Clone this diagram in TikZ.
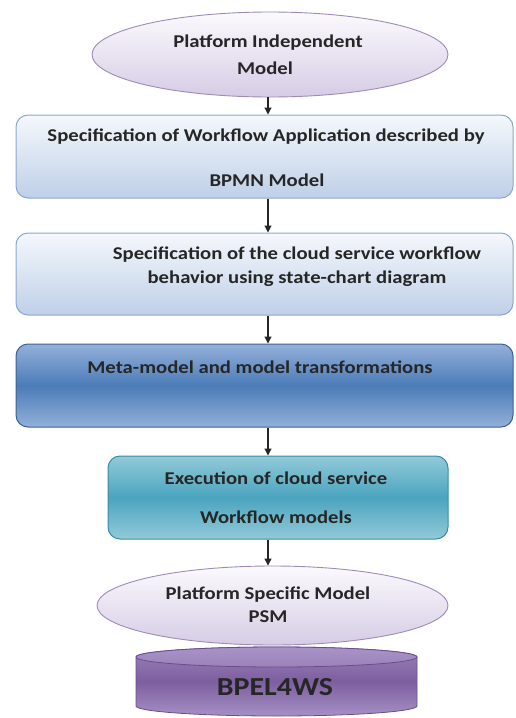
\documentclass[tikz,border=0pt]{standalone}
\usepackage{fontspec}
\setmainfont{Carlito}[FakeStretch=1.15]
\usetikzlibrary{arrows.meta,shapes.geometric}
\definecolor{txt}{HTML}{262626}
\definecolor{lavtop}{HTML}{FBFAFD}
\definecolor{lavbot}{HTML}{D6CCE5}
\definecolor{lavdraw}{HTML}{9D8BB8}
\definecolor{lbtop}{HTML}{F5F8FC}
\definecolor{lbbot}{HTML}{BFCFE8}
\definecolor{lbdraw}{HTML}{8CA7CF}
\definecolor{dbedge}{HTML}{93B0D9}
\definecolor{dbmid}{HTML}{4C7CB8}
\definecolor{dbdraw}{HTML}{3C6294}
\definecolor{tledge}{HTML}{92CAD8}
\definecolor{tlmid}{HTML}{4BA4BF}
\definecolor{tldraw}{HTML}{3B8BA5}
\definecolor{cylbody}{HTML}{7D5E9F}
\definecolor{cylhi}{HTML}{9B82BA}
\definecolor{cyllow}{HTML}{A590C4}
\definecolor{cyltop}{HTML}{A893C6}
\definecolor{cyldraw}{HTML}{6A4E8C}
\tikzset{
  lbl/.style={font=\bfseries\fontsize{18}{21}\selectfont, text=txt, inner sep=0pt},
  oval/.style={ellipse, draw=lavdraw, line width=0.9pt, top color=lavtop, bottom color=lavbot},
  lightbox/.style={rectangle, rounded corners=12pt, draw=lbdraw, line width=1pt, top color=lbtop, bottom color=lbbot},
  darkbox/.style={rectangle, rounded corners=12pt, draw=dbdraw, line width=1pt, top color=dbedge, bottom color=dbedge, middle color=dbmid},
  tealbox/.style={rectangle, rounded corners=12pt, draw=tldraw, line width=1pt, top color=tledge, bottom color=tledge, middle color=tlmid},
  arr/.style={draw=black!85, line width=1.2pt, -{Triangle[length=7pt,width=7pt]}}
}
\begin{document}
\begin{tikzpicture}[x=1pt,y=-1pt]
\useasboundingbox (0,0) rectangle (515,718);
% shapes
\node[oval, minimum width=356pt, minimum height=85pt, inner sep=0pt] (e1) at (270,54.5) {};
\node[lightbox, minimum width=497pt, minimum height=83pt] (b1) at (264.5,156.5) {};
\node[lightbox, minimum width=497pt, minimum height=82pt] (b2) at (264.5,274) {};
\node[darkbox, minimum width=497pt, minimum height=83pt] (b3) at (264.5,385.5) {};
\node[tealbox, minimum width=340pt, minimum height=83pt] (b4) at (278,497.5) {};
% cylinder
\coordinate (cyl) at (276.5,657);
\shade[top color=cylhi, bottom color=cyllow, middle color=cylbody, draw=cyldraw, line width=0.8pt]
  (136,657) -- (136,706) arc[start angle=180, end angle=360, x radius=140.5pt, y radius=10pt]
  -- (417,657) arc[start angle=0, end angle=180, x radius=140.5pt, y radius=10pt] -- cycle;
\shade[top color=cyltop, bottom color=cylhi, draw=cyldraw, line width=0.8pt]
  (cyl) ellipse[x radius=140.5pt, y radius=10pt];
\node[oval, minimum width=351pt, minimum height=79pt, inner sep=0pt] (e2) at (272.5,605.5) {};
% texts
\node[lbl] (t1a) at (268,43) {Platform Independent};
\node[lbl] (t1b) at (265,68) {Model};
\node[lbl] (t2a) at (266,137) {Specification of Workflow Application described by};
\node[lbl] (t2b) at (267,180) {BPMN Model};
\node[lbl] (t3a) at (297,255) {Specification of the cloud service workflow};
\node[lbl] (t3b) at (297,279) {behavior using state-chart diagram};
\node[lbl] (t4) at (260,367) {Meta-model and model transformations};
\node[lbl] (t5a) at (276,478) {Execution of cloud service};
\node[lbl] (t5b) at (276,517) {Workflow models};
\node[lbl] (t6a) at (268,595) {Platform Specific Model};
\node[lbl] (t6b) at (268,617) {PSM};
\node[font=\bfseries\fontsize{26}{30}\selectfont, text=txt, inner sep=0pt] (t7) at (275,687) {BPEL4WS};
% arrows
\coordinate (ax) at (268,0);
\draw[arr] (e1.south -| ax) -- (b1.north -| ax);
\draw[arr] (b1.south -| ax) -- (b2.north -| ax);
\draw[arr] (b2.south -| ax) -- (b3.north -| ax);
\draw[arr] (b3.south -| ax) -- (b4.north -| ax);
\draw[arr] (b4.south -| ax) -- (e2.north -| ax);
\end{tikzpicture}
\end{document}
